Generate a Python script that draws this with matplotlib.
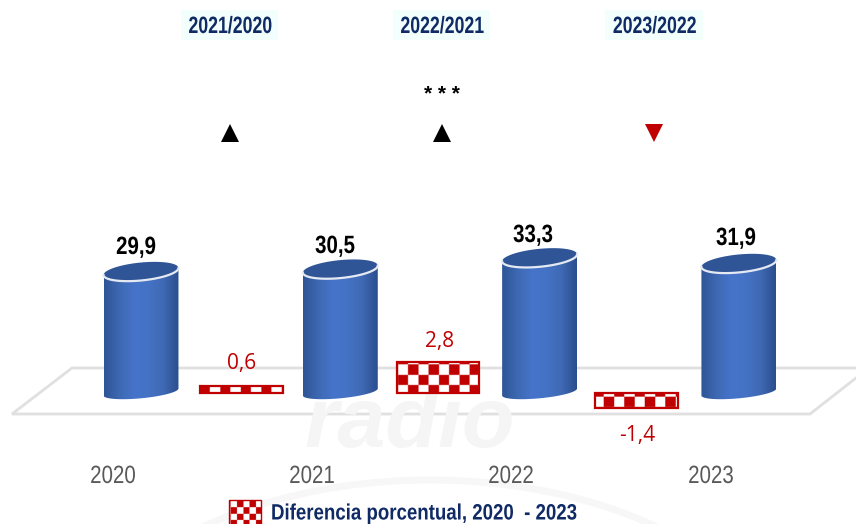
"""Cylinder chart 2020-2023 with percentage difference bars."""
import numpy as np
import matplotlib; matplotlib.use('Agg')
import matplotlib.pyplot as plt
from matplotlib.colors import LinearSegmentedColormap, ListedColormap
from matplotlib.patches import Arc, Polygon, Rectangle
from matplotlib.patheffects import AbstractPathEffect
from matplotlib.transforms import Affine2D

years = ['2020', '2021', '2022', '2023']
values = [29.9, 30.5, 33.3, 31.9]
diffs = [0.6, 2.8, -1.4]
periods = ['2021/2020', '2022/2021', '2023/2022']
trend = ['up', 'up', 'down']
legend_label = 'Diferencia porcentual, 2020  - 2023'

W, H = 856, 524
SANS = 'Liberation Sans'
NAVY, RED, GREY = '#0F2A64', '#C00000', '#595959'


class Narrow(AbstractPathEffect):
    # no narrow font installed, so squeeze the glyphs around their anchor
    def __init__(self, cx, sx=0.82):
        super().__init__()
        self.cx, self.sx = cx, sx

    def draw_path(self, renderer, gc, tpath, affine, rgbFace=None):
        squeeze = Affine2D().translate(-self.cx, 0).scale(self.sx, 1).translate(self.cx, 0)
        renderer.draw_path(gc, tpath, affine + squeeze, rgbFace)


def txt(s):
    return f'{s:.1f}'.replace('.', ',')


fig = plt.figure(figsize=(W/100, H/100), dpi=100, facecolor='white')
def layer():
    a = fig.add_axes([0, 0, 1, 1]); a.axis('off'); return a

# pixel layer, floor and watermark
bg = layer(); bg.set_xlim(0, W); bg.set_ylim(H, 0)
bg.text(410, 425, 'radio', fontsize=62, fontweight='bold', style='italic', color='#f5f5f5',
        ha='center', va='center', family=SANS)
for r in (230, 300):
    bg.add_patch(Arc((430, 690), r*2.4, r*1.4, theta1=200, theta2=340, color='#f7f7f7', lw=5))
bg.plot([856, 72, 12, 810, 856], [368, 368, 414, 414, 378], color='#e0e0e0', lw=2.0, solid_joinstyle='miter')

# cylinders, value scale
ax = layer()
PX_X, PX_Y, X0, Y0 = 199.3, 4.03, 141, 392
ax.set_xlim(-X0/PX_X, (W-X0)/PX_X); ax.set_ylim((Y0-H)/PX_Y, Y0/PX_Y)
a, b_top, b_bot, s = 0.188, 9.0/PX_Y, 6.3/PX_Y, 3.5/PX_Y
shade = LinearSegmentedColormap.from_list('cyl', ['#2F5597', '#3D68B2', '#4674CA', '#4472C4', '#3F69B4', '#2B4F8E'])
t_front = np.linspace(np.pi, 2*np.pi, 40)
t_full = np.linspace(0, 2*np.pi, 80)
xlim, ylim = ax.get_xlim(), ax.get_ylim()
for i, v in enumerate(values):
    bx = i + a*np.cos(t_front); by = b_bot*np.sin(t_front) + s*np.cos(t_front)
    tx = i + a*np.cos(t_front[::-1]); ty = v + s*np.cos(t_front[::-1])
    body = Polygon(np.column_stack([np.r_[bx, tx], np.r_[by, ty]]), closed=True, fc='none', ec='none')
    ax.add_patch(body)
    im = ax.imshow(np.linspace(0, 1, 64)[None, :], cmap=shade, aspect='auto',
                   extent=(i-a, i+a, -5, v+5), zorder=2)
    im.set_clip_path(body)
    ax.fill(i + a*np.cos(t_full), v + b_top*np.sin(t_full) + s*np.cos(t_full), color='#2F5597', lw=0, zorder=3)
    ax.plot(i + a*np.cos(t_front), v + b_top*np.sin(t_front) + s*np.cos(t_front), color='#e4e9f2', lw=1.6, zorder=4)
ax.set_xlim(xlim); ax.set_ylim(ylim)

# difference bars, own scale
ax2 = layer()
D_X = [0.505, 1.49, 2.485]
D_PX, D0 = 11.0, 392.5
ax2.set_xlim(xlim); ax2.set_ylim((D0-H)/D_PX, D0/D_PX)
xlim2, ylim2 = ax2.get_xlim(), ax2.get_ylim()
checks = ListedColormap(['#C00000', 'white'])
yy, xx = np.mgrid[0:H*2, 0:W*2] / 2


def checker(cell, px, py):
    return ((xx - px)//cell + (yy - py)//cell) % 2


phase = [(199.75, 384.5), (387, 365), (603.3, 396.7)]
bars = ax2.bar(D_X, diffs, width=0.416, facecolor='none', edgecolor=RED, linewidth=1.6, zorder=3)
for bar, (px, py) in zip(bars, phase):
    im = ax2.imshow(checker(10.25, px, py), cmap=checks, aspect='auto', origin='upper',
                    extent=(*xlim2, *ylim2), zorder=2, interpolation='bilinear')
    im.set_clip_path(bar)
ax2.set_xlim(xlim2); ax2.set_ylim(ylim2)

# texts
top = layer(); top.set_xlim(0, W); top.set_ylim(H, 0)
for x, y, v in zip([136, 335, 533, 736], [247, 246, 235, 238], values):
    top.text(x, y, txt(v), fontsize=18, fontweight='bold', color='black', ha='center', va='center',
             family=SANS, path_effects=[Narrow(x)])
for x, lab in zip([113, 312, 511, 711], years):
    top.text(x, 476, lab, fontsize=18, color=GREY, ha='center', va='center', family=SANS, path_effects=[Narrow(x)])
for x, y, d in zip([242, 440, 637], [364, 342, 436], diffs):
    top.text(x, y, txt(d), fontsize=15, color=RED, ha='center', va='center', family=['Open Sans', 'DejaVu Sans'])

for x0, x1, lab in zip([181, 393, 605], [278, 490, 703], periods):
    top.add_patch(Rectangle((x0, 9.5), x1-x0, 30.5, fc='#F2FFFD', ec='none'))
    cx = (x0+x1)/2 + 1
    top.text(cx, 26.5, lab, fontsize=17, fontweight='bold', color=NAVY, ha='center', va='center',
             family=SANS, path_effects=[Narrow(cx, 0.75)])
for x, d in zip([230.5, 442.5, 654.5], trend):
    top.plot([x], [132.5], marker='^' if d == 'up' else 'v', ms=12.8, mew=0,
             color='black' if d == 'up' else RED, ls='none')
top.text(442, 94, '* * *', fontsize=15, fontweight='bold', color='black', ha='center', va='center', family=SANS)

# legend swatch, cut by the bottom edge as in the source
sw = top.imshow(checker(6.3, 224.7, 501), cmap=checks, aspect='auto', origin='upper',
                extent=(0, W, H, 0), zorder=2)
frame = Rectangle((229.5, 499.5), 32, 30, fc='none', ec=RED, lw=1, zorder=3); top.add_patch(frame)
sw.set_clip_path(frame)
top.text(271, 514, legend_label, fontsize=16, fontweight='bold', color=NAVY, ha='left', va='center',
         family=SANS, path_effects=[Narrow(271, 0.84)])
top.set_xlim(0, W); top.set_ylim(H, 0)

fig.savefig('out.png', dpi=100)
plt.close(fig)
